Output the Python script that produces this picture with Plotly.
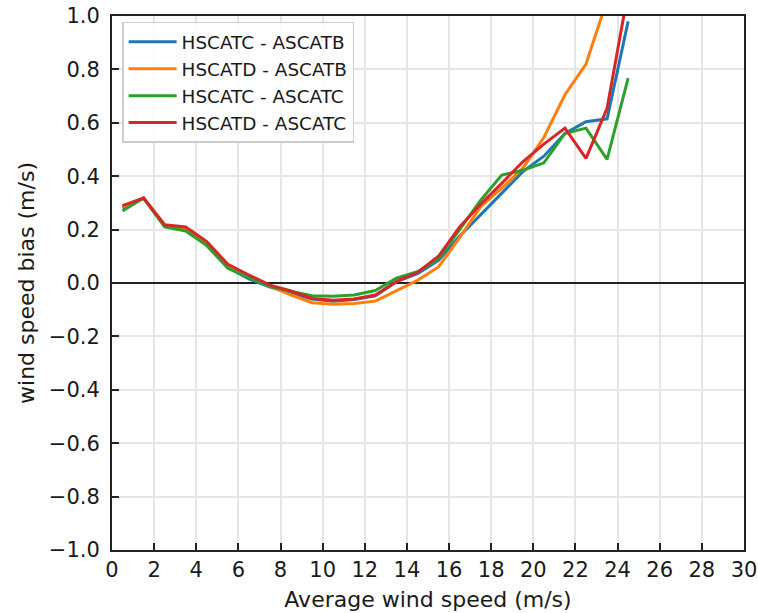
import plotly.graph_objects as go

# Bin centres of the average wind speed (m/s)
wind_speed = [0.5, 1.5, 2.5, 3.5, 4.5, 5.5, 6.5, 7.5, 8.5, 9.5, 10.5, 11.5, 12.5,
              13.5, 14.5, 15.5, 16.5, 17.5, 18.5, 19.5, 20.5, 21.5, 22.5, 23.5, 24.5]

# Wind speed bias (m/s) for each sensor pair
hscatc_ascatb = [0.28, 0.318, 0.215, 0.200, 0.145, 0.058, 0.015, -0.015, -0.038, -0.060,
                 -0.068, -0.062, -0.048, 0.005, 0.035, 0.085, 0.175, 0.255, 0.336, 0.417,
                 0.475, 0.560, 0.604, 0.615, 0.980]
hscatd_ascatb = [0.285, 0.318, 0.212, 0.200, 0.145, 0.062, 0.025, -0.012, -0.045, -0.074,
                 -0.080, -0.077, -0.068, -0.030, 0.010, 0.060, 0.170, 0.286, 0.355, 0.430,
                 0.545, 0.705, 0.820, 1.060]
hscatc_ascatc = [0.27, 0.318, 0.210, 0.195, 0.140, 0.055, 0.020, -0.012, -0.032, -0.048,
                 -0.050, -0.045, -0.028, 0.018, 0.042, 0.090, 0.200, 0.310, 0.404, 0.422,
                 0.450, 0.560, 0.580, 0.463, 0.767]
hscatd_ascatc = [0.29, 0.318, 0.218, 0.210, 0.155, 0.070, 0.030, -0.008, -0.030, -0.058,
                 -0.065, -0.060, -0.045, 0.005, 0.040, 0.100, 0.210, 0.295, 0.373, 0.454,
                 0.520, 0.580, 0.467, 0.654, 1.090]

series_names = ["HSCATC - ASCATB", "HSCATD - ASCATB", "HSCATC - ASCATC", "HSCATD - ASCATC"]
series_values = [hscatc_ascatb, hscatd_ascatb, hscatc_ascatc, hscatd_ascatc]
colors = ["#1f77b4", "#ff7f0e", "#2ca02c", "#d62728"]

x_tick_vals = list(range(0, 31, 2))
x_tick_text = [str(v) for v in x_tick_vals]
y_tick_vals = [-1.0, -0.8, -0.6, -0.4, -0.2, 0.0, 0.2, 0.4, 0.6, 0.8, 1.0]
y_tick_text = ["\u22121.0", "\u22120.8", "\u22120.6", "\u22120.4", "\u22120.2",
               "0.0", "0.2", "0.4", "0.6", "0.8", "1.0"]

FONT = "DejaVu Sans"

fig = go.Figure()
for name, vals, col in zip(series_names, series_values, colors):
    fig.add_trace(go.Scatter(
        x=wind_speed[:len(vals)], y=vals, mode="lines", name=name,
        line=dict(color=col, width=3),
    ))

axis_common = dict(
    automargin=False,
    showgrid=True, gridcolor="#e6e6e6", gridwidth=1.5,
    showline=True, linecolor="#222222", linewidth=2, mirror=True,
    ticks="inside", ticklen=7, tickwidth=1.5, tickcolor="#222222",
    tickfont=dict(family=FONT, size=21, color="#1a1a1a"),
)

fig.update_layout(
    width=758, height=613,
    margin=dict(l=112, r=14, t=16, b=63),
    paper_bgcolor="white", plot_bgcolor="white",
    font=dict(family=FONT, color="#1a1a1a"),
    xaxis=dict(
        range=[0, 30], tickvals=x_tick_vals, ticktext=x_tick_text,
        zeroline=False,
        title=dict(text="Average wind speed (m/s)", font=dict(family=FONT, size=22), standoff=10),
        **axis_common,
    ),
    yaxis=dict(
        range=[-1.0, 1.0], tickvals=y_tick_vals, ticktext=y_tick_text,
        zeroline=True, zerolinecolor="#222222", zerolinewidth=1.5,
        ticklabelstandoff=6,
        title=dict(text="wind speed bias (m/s)", font=dict(family=FONT, size=22), standoff=8),
        **axis_common,
    ),
    legend=dict(
        x=0.016, y=0.989, xanchor="left", yanchor="top",
        bgcolor="rgba(255,255,255,0.85)", bordercolor="#cccccc", borderwidth=1.5,
        font=dict(family=FONT, size=18.4, color="#1a1a1a"),
        tracegroupgap=0, itemwidth=48,
    ),
    showlegend=True,
)

fig.write_html("out.html")
